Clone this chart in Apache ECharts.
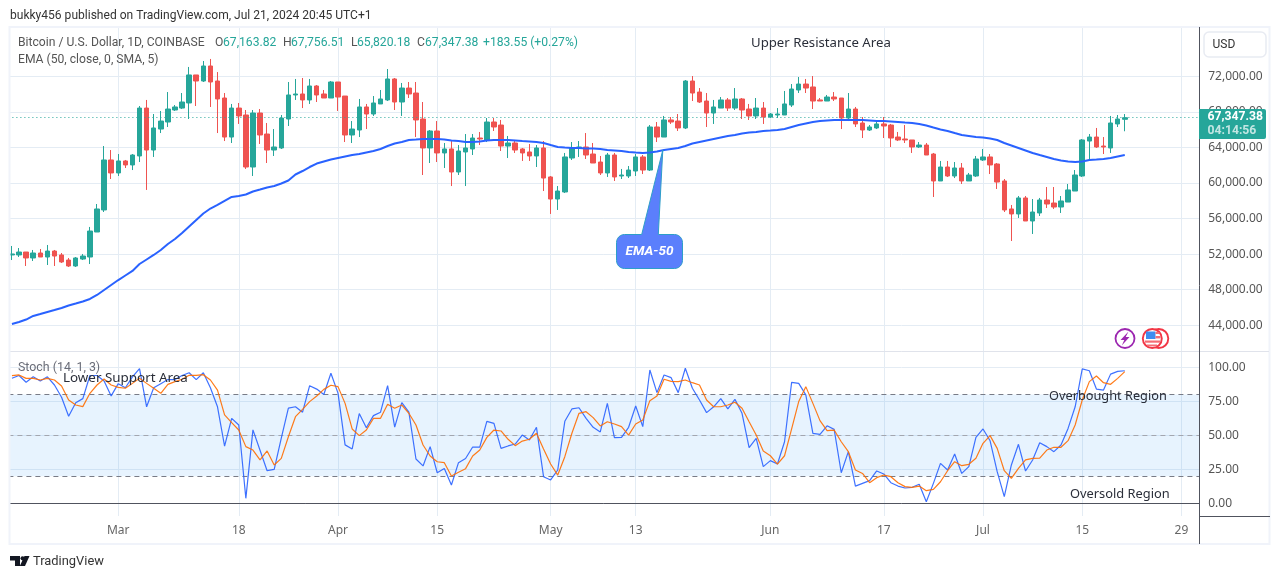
<!DOCTYPE html>
<html><head><meta charset="utf-8">
<style>html,body{margin:0;padding:0;background:#fff}#c{width:1281px;height:579px}</style>
<script src="https://cdn.jsdelivr.net/npm/echarts@6/dist/echarts.min.js"></script>
</head><body><div id="c"></div>
<script>
const dates=['02-15','02-16','02-17','02-18','02-19','02-20','02-21','02-22','02-23','02-24','02-25','02-26','02-27','02-28','02-29',
'03-01','03-02','03-03','03-04','03-05','03-06','03-07','03-08','03-09','03-10','03-11','03-12','03-13','03-14','03-15','03-16','03-17','03-18','03-19','03-20','03-21','03-22','03-23','03-24','03-25','03-26','03-27','03-28','03-29','03-30','03-31',
'04-01','04-02','04-03','04-04','04-05','04-06','04-07','04-08','04-09','04-10','04-11','04-12','04-13','04-14','04-15','04-16','04-17','04-18','04-19','04-20','04-21','04-22','04-23','04-24','04-25','04-26','04-27','04-28','04-29','04-30',
'05-01','05-02','05-03','05-04','05-05','05-06','05-07','05-08','05-09','05-10','05-11','05-12','05-13','05-14','05-15','05-16','05-17','05-18','05-19','05-20','05-21','05-22','05-23','05-24','05-25','05-26','05-27','05-28','05-29','05-30','05-31',
'06-01','06-02','06-03','06-04','06-05','06-06','06-07','06-08','06-09','06-10','06-11','06-12','06-13','06-14','06-15','06-16','06-17','06-18','06-19','06-20','06-21','06-22','06-23','06-24','06-25','06-26','06-27','06-28','06-29','06-30',
'07-01','07-02','07-03','07-04','07-05','07-06','07-07','07-08','07-09','07-10','07-11','07-12','07-13','07-14','07-15','07-16','07-17','07-18','07-19','07-20','07-21','07-22','07-23','07-24','07-25','07-26','07-27','07-28','07-29','07-30','07-31'];
const tickDates=['03-01','03-18','04-01','04-15','05-01','05-13','06-01','06-17','07-01','07-15','07-29'];
const tickLabels=['Mar','18','Apr','15','May','13','Jun','17','Jul','15','29'];
const priceTicks=[44000,48000,52000,56000,60000,64000,68000,72000];
const stochTicks=[0,25,50,75,100];
const opens=[51910,51910,52240,51570,52130,51680,52350,51910,51340,50670,
51450,51680,54490,56970,62590,61130,62480,62030,63040,68430,
63710,66070,66860,68210,68430,69000,72150,71470,73160,71470,
69560,65170,68430,67650,61800,67870,65510,63710,63940,67200,
69900,70010,69340,70910,70010,69560,71360,69780,65400,65960,
68550,67760,68890,69340,71700,69110,70680,70120,67200,63940,
65850,63380,63830,61240,63490,63830,65060,64840,66860,66520,
64160,64500,63830,63490,63040,63940,60680,58200,58990,62810,
63940,64050,63260,62360,61130,63150,60790,60790,61350,62930,
61460,66300,65170,67090,66970,66190,71470,70230,69220,67870,
68430,69340,68430,69450,68320,67540,68430,67420,67650,67650,
68770,70460,71130,70800,69340,69220,69670,69560,67310,68320,
66750,65960,66190,66640,66520,65170,64950,64840,64050,64270,
63260,60230,61800,60790,61690,60230,60790,62590,62930,62140,
60230,57080,56520,58320,55730,56630,58090,57750,57300,57860,
59100,60790,64720,65170,64160,63940,66640,67163.82];
const closes=[52020,52240,51570,52130,51680,52350,51790,51120,50670,51570,
51790,54600,57080,62590,61130,62480,62030,63150,68430,63710,
66190,66970,68320,68550,69110,72150,71470,73160,71360,69450,
65170,68430,67540,61800,67870,65400,63710,64050,67310,69900,
70010,69340,70910,69900,69560,71360,69670,65400,66070,68550,
67760,69000,69450,71700,69110,70680,70010,67090,63940,65850,
63380,63830,61240,63600,63940,65060,64950,66860,66300,64160,
64500,63710,63380,63040,63940,60560,58200,59100,62930,63940,
64050,63150,62250,61130,63150,60680,60900,61460,62930,61460,
66300,65170,67090,66860,66190,71470,70120,69110,67870,68550,
69340,68430,69450,68210,67540,68430,67420,67760,67760,68890,
70570,71130,70680,69220,69220,69670,69450,67310,68320,66640,
65960,66300,66640,66410,65060,64840,64840,64050,64270,63150,
60230,61800,60790,61690,60230,60900,62700,62930,62030,60110,
56970,56520,58320,55730,56740,58090,57640,57300,57980,59220,
60900,64840,65170,64050,64050,66750,67200,67347.38];
const highs=[52920,52690,52240,52470,52580,53030,52470,52130,51570,51680,
52020,55060,57640,64160,63710,63260,62590,63260,68660,69340,
67760,68100,70230,68770,70120,73050,72150,73720,73950,72480,
70120,68890,69000,68210,68210,68320,66750,66070,67650,71360,
71700,71810,71700,71020,70460,71470,71360,69780,66970,69450,
68890,69780,70460,72820,71810,71250,71360,71360,69110,65960,
66970,64500,64720,64270,65510,65510,65740,67310,67310,67090,
65290,64840,63940,64390,64270,64720,60790,59660,63380,64610,
64720,65620,64500,63040,63380,63380,61580,61910,63260,63150,
66520,66860,67540,67420,67760,71580,72030,70680,70120,69340,
69670,69560,70680,69560,68890,69560,69110,67870,68430,70350,
71130,71920,71700,72030,69560,69900,70230,69560,70120,68550,
67420,66520,66970,67420,66640,65740,66520,64840,64610,64500,
63380,62480,62480,62360,62250,61130,63040,63830,63260,62250,
60450,57530,58540,58540,58200,58320,59550,59550,58540,59890,
61460,64950,65510,66190,65170,67540,67650,67756.51];
const lows=[51340,51680,50670,51230,51680,50780,50670,51010,50560,50560,
51340,50890,54490,56740,60450,60790,61690,61460,62360,59220,
62930,65620,66300,68100,68320,67200,68660,71360,68550,65620,
64720,64500,66640,61580,60790,64390,62250,63040,63830,66410,
69340,68430,68890,69110,69560,69560,68100,64610,64500,65170,
66070,67540,68890,69220,68210,67540,69560,65170,60900,62250,
62360,61690,59660,60900,59660,63150,64270,64610,65850,63600,
62810,63380,62480,62480,61800,59100,56520,56970,58880,62590,
62930,62700,62250,60900,60680,60230,60450,60560,60790,61010,
61350,64610,65170,66640,65850,66070,69220,69000,66300,66640,
68430,68100,68210,67200,67090,67200,66640,67310,67310,67650,
68550,70120,70120,68320,69220,69220,69220,66070,66970,66300,
65060,65850,66070,65060,64050,64720,64500,63380,63940,63150,
58430,60230,60680,60560,59890,60230,60680,62480,61010,59330,
56740,53480,56070,55730,54270,56290,57190,57080,56630,57860,
59100,60680,62480,63940,63260,63380,66300,65820.18];
const ema50=[44150,44370,44650,45050,45270,45500,45720,45950,46230,46450,
46680,46960,47410,47970,48530,49090,49600,50110,50890,51400,
51910,52470,53140,53700,54380,55110,55840,56570,57130,57530,
57980,58430,58540,58710,59050,59270,59500,59660,59950,60280,
60960,61350,61800,62190,62420,62640,62810,62980,63150,63260,
63430,63600,63830,64160,64440,64610,64840,64890,64950,64950,
64950,64890,64780,64720,64610,64610,64670,64780,64840,64840,
64840,64780,64720,64670,64610,64500,64270,64050,63990,63940,
63940,63880,63880,63830,63710,63660,63600,63490,63430,63380,
63430,63540,63710,63830,63940,64160,64440,64610,64780,64950,
65120,65290,65400,65570,65680,65740,65850,65900,65960,66070,
66300,66520,66690,66860,66970,67030,67090,67090,67090,67090,
67090,67030,66970,66970,66920,66860,66800,66750,66640,66470,
66240,66020,65850,65620,65400,65290,65170,65120,65010,64840,
64500,64220,63940,63660,63380,63150,62930,62700,62530,62420,
62360,62420,62590,62640,62700,62810,62980,63150];
const stochK=[92,94,89,93,90,93,87,78,64,74,
77,94,94,90,79,88,85,93,99,71,
85,88,91,91,94,96,91,96,85,71,
42,62.5,57.6,3.7,54,39,24,25,48,70,
71,67,86.5,84,80,95.6,81,43,40,66,
55.6,64.5,67,86.5,56,74,67,32.6,27.5,41.7,
22.5,25.7,13.5,29.9,33,41.4,41.4,60.3,58.8,40.4,
42.2,43.6,50.2,46.6,55.9,19.6,17.2,24.5,60.3,69.4,
70.3,62.5,55.9,52.5,73.5,48.3,48.5,55.9,71.6,56.4,
98,81.4,94.4,92.4,81.4,99.3,84.6,76,66.7,71,
77,69.4,76.5,66.2,40.9,47.8,27,31.4,28.9,45.3,
89,88.2,79.7,51.5,50.7,57,54.4,22.5,38,12.7,
14.7,16.7,23.8,21.6,15.2,12.7,11.3,11.8,14,1.2,
14.7,29.4,24.5,36.3,22,27,48.5,54.7,46,23.3,
4.9,28.2,43.4,23.8,31.9,44.6,41.7,38,42.9,55.1,
71,98.8,97.5,84,83.3,95,97,97.5];
const stochD=[93.9,94.4,91.9,91.9,90.7,91.9,90.7,86.3,76,72.3,
71.1,80.9,87,91.4,87,85.3,84.6,88.2,91.9,88.2,
84.6,80.9,87.5,89.5,91.2,94.1,94.1,94.6,90.7,83.3,
65,59.3,53.9,41.7,39.2,31.9,38.5,28.2,33.1,49,
63.7,69.1,74.8,78.9,83.8,86.8,85.8,73.5,54.7,49.8,
53.9,62.5,62.5,72.8,69.9,72.3,66.2,57.6,42.9,34.8,
30.6,29.9,20.1,22.8,25.5,34.8,39.2,48.5,53.9,53.2,
47.1,42.4,45.8,47.1,51.5,40,28.9,20.8,34.3,51.5,
66.2,67.4,63,56.9,60,58.3,56.4,50.2,58.3,61.3,
75.5,78.9,91.2,89.7,89.5,90.7,88.7,87,76,71,
71,72.3,74.3,69.9,60,50.2,38.5,35,28.9,35,
54.7,74.8,85.8,73.5,60.8,53.4,53.9,45.3,38,24.5,
22,15.2,18.9,20.8,19.6,15.2,12.3,11.8,12.7,9.3,
10.3,15.9,24,30.6,27.7,28.7,33.1,44.1,49.8,40.4,
24,18.4,25.7,31.9,33.1,33.3,39.2,41.2,41.2,46.1,
57.6,76,89.5,93.6,88.7,87.5,91.9,96.8];
const lastClose=67347.38, countdown='04:14:56';

const FONT='Roboto';
const AFONT='"Noto Sans"';
const GRID='#e4ecf4', AX='#50535e', UP='#26a69a', DN='#ef5350';
const ohlc=opens.map((o,i)=>[o,closes[i],lows[i],highs[i]]);
const pickTick=(i,v)=>tickDates.includes(v);
const fmtPrice=v=>v.toLocaleString('en-US',{minimumFractionDigits:2,maximumFractionDigits:2});
const chart=echarts.init(document.getElementById('c'),null,{renderer:'canvas'});
const gridL=8.4, gridW=1190.8;

function txt(x,y,t,o){o=o||{};return{type:'text',x:x,y:y,z:o.z||50,silent:true,style:{text:t,fill:o.c||'#555',font:(o.w||'normal')+' '+(o.s||12.5)+'px '+(o.f||FONT),textAlign:o.a||'left',textVerticalAlign:'middle'}};}
function line(x1,y1,x2,y2,c,z){return{type:'line',z:z||40,silent:true,shape:{x1:x1,y1:y1,x2:x2,y2:y2},style:{stroke:c,lineWidth:1}};}
function calloutPoints(){ // rounded box + pointer outline for the EMA-50 annotation
  const L=616.5,R=682.5,T=234.5,B=268.5,r=8,pts=[];
  const arc=(cx,cy,a0)=>{for(let k=0;k<=6;k++){const a=a0+k*Math.PI/12;pts.push([cx+r*Math.cos(a),cy+r*Math.sin(a)]);}};
  arc(L+r,T+r,Math.PI);pts.push([641.7,T],[662.8,150],[658.3,T]);arc(R-r,T+r,-Math.PI/2);arc(R-r,B-r,0);arc(L+r,B-r,Math.PI/2);
  return pts;
}

chart.setOption({
  animation:false,
  backgroundColor:'#ffffff',
  grid:[{left:gridL,top:27,width:gridW,height:324},{left:gridL,top:351,width:gridW,height:165}],
  xAxis:[
    {type:'category',gridIndex:0,data:dates,boundaryGap:true,axisLine:{show:false},axisTick:{show:false},axisLabel:{show:false},
     splitLine:{show:true,alignWithLabel:true,interval:pickTick,lineStyle:{color:GRID,width:1}}},
    {type:'category',gridIndex:1,data:dates,boundaryGap:true,axisLine:{show:true,lineStyle:{color:AX,width:1}},axisTick:{show:false},
     axisLabel:{show:true,interval:pickTick,margin:9,color:'#666',fontFamily:AFONT,fontSize:12,formatter:v=>tickLabels[tickDates.indexOf(v)]},
     splitLine:{show:true,alignWithLabel:true,interval:pickTick,lineStyle:{color:GRID,width:1}}}
  ],
  yAxis:[
    {type:'value',gridIndex:0,position:'right',min:41110,max:77544,axisLine:{show:false},
     axisTick:{show:false,customValues:priceTicks},
     axisLabel:{customValues:priceTicks,margin:9,color:'#555',fontFamily:AFONT,fontSize:12,formatter:fmtPrice},
     splitLine:{show:true,lineStyle:{color:GRID,width:1}}},
    {type:'value',gridIndex:1,position:'right',min:-9.3,max:112,axisLine:{show:false},
     axisTick:{show:false,customValues:stochTicks},
     axisLabel:{customValues:stochTicks,margin:9,color:'#555',fontFamily:AFONT,fontSize:12,formatter:fmtPrice},
     splitLine:{show:true,lineStyle:{color:GRID,width:1}}}
  ],
  series:[
    {name:'BTCUSD',type:'candlestick',xAxisIndex:0,yAxisIndex:0,data:ohlc,barWidth:5,clip:true,
     itemStyle:{color:UP,color0:DN,borderColor:UP,borderColor0:DN,borderWidth:1},
     markLine:{silent:true,symbol:'none',animation:false,label:{show:false},lineStyle:{color:UP,type:[1,3],width:1},data:[{yAxis:lastClose}]}},
    {name:'EMA',type:'line',xAxisIndex:0,yAxisIndex:0,data:ema50,showSymbol:false,lineStyle:{color:'#2962ff',width:2},z:5},
    {name:'%K',type:'line',xAxisIndex:1,yAxisIndex:1,data:stochK,showSymbol:false,lineStyle:{color:'#2962ff',width:1.2,opacity:.9},z:5,
     markArea:{silent:true,itemStyle:{color:'rgba(33,150,243,0.11)'},data:[[{yAxis:80},{yAxis:20}]]},
     markLine:{silent:true,symbol:'none',animation:false,label:{show:false},data:[
       {yAxis:80,lineStyle:{color:'#787b86',type:[5,4],width:1}},
       {yAxis:50,lineStyle:{color:'#a3a6af',type:[5,4],width:1}},
       {yAxis:20,lineStyle:{color:'#787b86',type:[5,4],width:1}}]}},
    {name:'%D',type:'line',xAxisIndex:1,yAxisIndex:1,data:stochD,showSymbol:false,lineStyle:{color:'#ff6d00',width:1.2,opacity:.9},z:6}
  ]
});

const lastY=chart.convertToPixel({yAxisIndex:0},lastClose);
const ANN='#2a2e39';
const G=[
  {type:'rect',z:30,silent:true,shape:{x:0,y:20,width:9,height:530},style:{fill:'#fff'}},
  {type:'rect',z:31,silent:true,shape:{x:9.5,y:27,width:1260,height:517},style:{fill:'none',stroke:'#f0f3fa',lineWidth:2}},
  line(1199.5,27,1199.5,544,AX,32),
  line(1199,516.5,1270,516.5,AX,32),
  line(10,351.5,1199,351.5,'#e0e3eb',4),
  line(1200,351.5,1269,351.5,'#e0e3eb',32),
  {type:'rect',z:33,silent:true,shape:{x:1204,y:32,width:62,height:25,r:5},style:{fill:'#fff',stroke:'#e8ebf2',lineWidth:1.5}},
  txt(1212.5,45,'USD',{c:'#333',s:12}),
  txt(10,15.5,'bukky456 published on TradingView.com, Jul 21, 2024 20:45 UTC+1',{c:'#333',s:12.05}),
  txt(18,42.5,'Bitcoin / U.S. Dollar, 1D, COINBASE',{s:12.15}),
  txt(215,42.5,'O',{s:12.15}),txt(223,42.5,'67,163.82',{c:UP,s:12.15}),
  txt(283,42.5,'H',{s:12.15}),txt(291,42.5,'67,756.51',{c:UP,s:12.15}),
  txt(351,42.5,'L',{s:12.15}),txt(357,42.5,'65,820.18',{c:UP,s:12.15}),
  txt(417,42.5,'C',{s:12.15}),txt(425,42.5,'67,347.38',{c:UP,s:12.15}),
  txt(483,42.5,'+183.55 (+0.27%)',{c:UP,s:12.15}),
  txt(18,59.5,'EMA (50, close, 0, SMA, 5)',{s:12.15}),
  txt(18,367.5,'Stoch (14, 1, 3)',{s:12.4,c:'#6a6d78'}),
  txt(751,43,'Upper Resistance Area',{c:ANN,s:13.2,f:AFONT}),
  txt(63,378,'Lower Support Area',{c:ANN,s:13.4,f:AFONT}),
  txt(1049,396,'Overbought Region',{c:ANN,s:12.75,f:AFONT}),
  txt(1070,494,'Oversold Region',{c:ANN,s:12.85,f:AFONT}),
  {type:'polygon',z:45,silent:true,shape:{points:calloutPoints()},style:{fill:'#5b7ffc',stroke:'#2d9ec9',lineWidth:1}},
  {type:'text',x:649.5,y:252,z:46,silent:true,style:{text:'EMA-50',fill:'#fff',font:'italic bold 13.5px Roboto',textAlign:'center',textVerticalAlign:'middle'}},
  {type:'rect',z:47,silent:true,shape:{x:1199,y:lastY-8.7,width:67,height:30,r:[0,2,2,0]},style:{fill:UP}},
  txt(1207.5,lastY-0.5,fmtPrice(lastClose),{c:'#fff',s:12.2,w:'bold',z:48}),
  txt(1207.5,lastY+13.5,countdown,{c:'rgba(255,255,255,.72)',s:12.2,w:'bold',z:48}),
  // bottom-right icons
  {type:'circle',z:35,silent:true,shape:{cx:1125,cy:338.5,r:9.5},style:{fill:'#fff',stroke:'#9c27b0',lineWidth:1.8}},
  {type:'polygon',z:36,silent:true,shape:{points:[[1128.5,331.5],[1120.5,340],[1124.3,340],[1121.8,345.5],[1129.5,337],[1125.7,337]]},style:{fill:'#9c27b0'}},
  {type:'circle',z:35,silent:true,shape:{cx:1158.8,cy:338.5,r:9.5},style:{fill:'#fff',stroke:'#f23645',lineWidth:1.9}},
  {type:'circle',z:36,silent:true,shape:{cx:1152.3,cy:338.5,r:9.5},style:{fill:'#fff',stroke:'#f23645',lineWidth:1.9}},
  {type:'rect',z:37,silent:true,shape:{x:1146,y:331.5,width:9.5,height:7.5},style:{fill:'#3f8df0'}},
  {type:'rect',z:37,silent:true,shape:{x:1155.5,y:332,width:4,height:2},style:{fill:'#f56d75'}},
  {type:'rect',z:37,silent:true,shape:{x:1155.5,y:336,width:5,height:2.4},style:{fill:'#f56d75'}},
  {type:'rect',z:37,silent:true,shape:{x:1145,y:340.5,width:15,height:2.2},style:{fill:'#f56d75'}},
  {type:'rect',z:37,silent:true,shape:{x:1147,y:344.5,width:10,height:1.8},style:{fill:'#f56d75'}},
  // TradingView logo
  {type:'polygon',z:35,silent:true,shape:{points:[[10,556],[20,556],[20,566],[15,566],[15,560.5],[10,560.5]]},style:{fill:'#131722'}},
  {type:'circle',z:35,silent:true,shape:{cx:22.6,cy:558.3,r:2.1},style:{fill:'#131722'}},
  {type:'polygon',z:35,silent:true,shape:{points:[[24.5,556],[29.5,556],[25,566],[19.8,566]]},style:{fill:'#131722'}},
  txt(33,561.5,'TradingView',{c:'#333',s:12.9})
];
chart.setOption({graphic:{elements:G}});
</script></body></html>
